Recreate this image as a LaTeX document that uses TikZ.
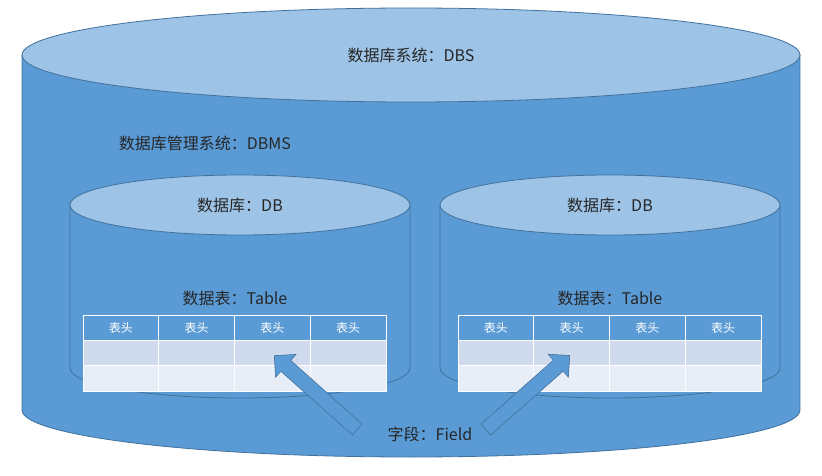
\documentclass[tikz,border=0pt]{standalone}
\usepackage{fontspec}
\setmainfont{Noto Sans CJK SC}
\usetikzlibrary{shapes.arrows}
\definecolor{bodyblue}{HTML}{5B9BD5}
\definecolor{topblue}{HTML}{9DC3E6}
\definecolor{edgeblue}{HTML}{41719C}
\definecolor{rowa}{HTML}{CFDBEC}
\definecolor{rowb}{HTML}{E8EEF7}
\tikzset{
  lbl/.style={font=\fontsize{16}{18}\selectfont, text=black!85},
  headcell/.style={fill=bodyblue, draw=white, line width=1pt},
  cella/.style={fill=rowa, draw=white, line width=1pt},
  cellb/.style={fill=rowb, draw=white, line width=1pt},
  blockarrow/.style={single arrow, fill=bodyblue, draw=edgeblue, line width=0.6pt,
    single arrow head extend=8pt, minimum width=30pt, inner xsep=0pt, inner ysep=7pt}
}
% cylinder: center x, top y, bottom y, rx, ry
\newcommand{\cyl}[5]{%
  \fill[bodyblue] (#1-#4,#2) rectangle (#1+#4,#3);
  \fill[bodyblue] (#1,#3) ellipse ({#4 pt} and {#5 pt});
  \draw[edgeblue, line width=0.8pt] (#1-#4,#2) -- (#1-#4,#3) arc (180:360:{#4 pt} and {#5 pt}) -- (#1+#4,#2);
  \filldraw[fill=topblue, draw=edgeblue, line width=0.8pt] (#1,#2) ellipse ({#4 pt} and {#5 pt});
}
% table: left x
\newcommand{\datatable}[2]{%
  \foreach \c in {0,...,3} {
    \path[headcell] (#1+\c*75.75,160) rectangle ++(75.75,-25);
    \node[font=\fontsize{12}{14}\selectfont, text=white] (#2h\c) at (#1+\c*75.75+37.9,147.5) {表头};
    \path[cella] (#1+\c*75.75,135) rectangle ++(75.75,-25);
    \path[cellb] (#1+\c*75.75,110) rectangle ++(75.75,-26);
  }
}
\begin{document}
\begin{tikzpicture}[x=1pt,y=1pt]
  \useasboundingbox (0,0) rectangle (822,475);

  % outer DBS cylinder
  \cyl{411}{420}{65}{389}{47}
  \node[lbl] (dbs) at (411,420) {数据库系统：DBS};
  \node[lbl] (dbms) at (205,332) {数据库管理系统：DBMS};

  % inner DB cylinders
  \cyl{240}{270}{107}{170}{30}
  \cyl{610}{270}{107}{170}{30}
  \node[lbl] (dbl) at (240,270) {数据库：DB};
  \node[lbl] (dbr) at (610,270) {数据库：DB};

  % tables
  \node[lbl] (tbl) at (235,177) {数据表：Table};
  \node[lbl] (tbr) at (610,177) {数据表：Table};
  \datatable{83}{l}
  \datatable{458}{r}

  % field arrows
  \node[blockarrow, minimum height=111pt, rotate=138.3] (arl) at (318.5,80) {};
  \node[blockarrow, minimum height=112pt, rotate=41.4] (arr) at (525,80) {};
  \node[lbl, fill=bodyblue, inner sep=2pt] (field) at (430,41) {字段：Field};
\end{tikzpicture}
\end{document}
